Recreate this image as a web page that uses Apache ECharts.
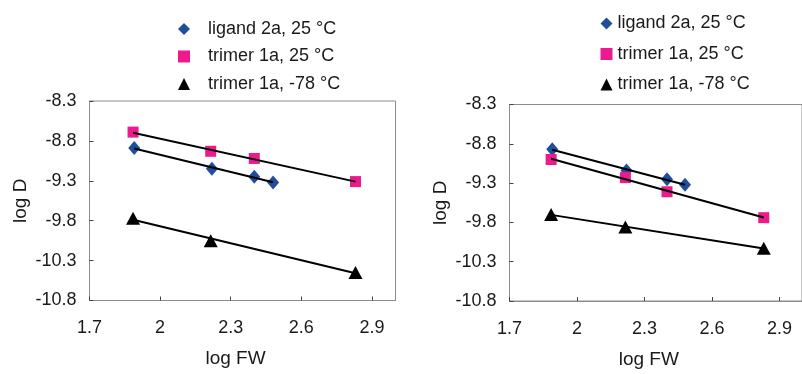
<!DOCTYPE html>
<html>
<head>
<meta charset="utf-8">
<script src="https://cdn.jsdelivr.net/npm/echarts@6/dist/echarts.min.js"></script>
<style>html,body{margin:0;padding:0;background:#fff;}#c{width:802px;height:374px;}</style>
</head>
<body>
<div id="c"></div>
<script>
// ---- data ----
const seriesNames = ['ligand 2a, 25 °C', 'trimer 1a, 25 °C', 'trimer 1a, -78 °C'];
const xTicks = [1.7, 2.0, 2.3, 2.6, 2.9];
const xTickLabels = ['1.7', '2', '2.3', '2.6', '2.9'];
const yTicks = [-10.8, -10.3, -9.8, -9.3, -8.8, -8.3];
const yTickLabels = ['-10.8', '-10.3', '-9.8', '-9.3', '-8.8', '-8.3'];

const xLigand = [1.89, 2.22, 2.40, 2.48];
const xTrimer = [1.885, 2.215, 2.40, 2.83];
const xTrimerCold = [1.885, 2.215, 2.83];

// left panel
const leftLigand = [-8.89, -9.15, -9.25, -9.32];
const leftTrimer = [-8.69, -8.93, -9.02, -9.31];
const leftTrimerCold = [-9.77, -10.05, -10.45];
// right panel
const rightLigand = [-8.87, -9.14, -9.25, -9.32];
const rightTrimer = [-9.00, -9.23, -9.41, -9.74];
const rightTrimerCold = [-9.70, -9.86, -10.13];

// ---- helpers ----
function pairs(xs, ys) { return xs.map((x, i) => [x, ys[i]]); }
function trend(xs, ys) {
  const n = xs.length;
  const mx = xs.reduce((a, b) => a + b, 0) / n;
  const my = ys.reduce((a, b) => a + b, 0) / n;
  let sxy = 0, sxx = 0;
  for (let i = 0; i < n; i++) { sxy += (xs[i] - mx) * (ys[i] - my); sxx += (xs[i] - mx) * (xs[i] - mx); }
  const b = sxy / sxx, a = my - b * mx;
  return [[xs[0], a + b * xs[0]], [xs[n - 1], a + b * xs[n - 1]]];
}

const FONT = "'Liberation Sans', Arial, sans-serif";
const TXT = '#1a1a1a';
const GRAY = '#8c8c8c';
const colors = ['#1f4e9a', '#ec1a8c', '#000000'];
const symbols = ['diamond', 'rect', 'triangle'];
const sizes = [[12, 14], 11, [14, 13]];

function axesFor(g) {
  const x = {
    type: 'value', gridIndex: g, min: 1.7, max: 3.0,
    axisLine: { lineStyle: { color: GRAY, width: 1 } },
    axisTick: { inside: true, length: 4, lineStyle: { color: '#444' }, customValues: xTicks },
    axisLabel: { customValues: xTicks, margin: 19, color: TXT, fontFamily: FONT, fontSize: 18,
      formatter: v => { const i = xTicks.findIndex(t => Math.abs(t - v) < 1e-6); return i >= 0 ? xTickLabels[i] : ''; } },
    splitLine: { show: false },
    name: 'log FW', nameLocation: 'middle', nameGap: 49,
    nameTextStyle: { color: TXT, fontFamily: FONT, fontSize: 19, padding: [0, 14, 0, 0] }
  };
  const y = {
    type: 'value', gridIndex: g, min: -10.8, max: -8.3,
    axisLine: { show: true, lineStyle: { color: GRAY, width: 1 } },
    axisTick: { show: true, inside: true, length: 4, lineStyle: { color: '#444' }, customValues: yTicks },
    axisLabel: { customValues: yTicks, margin: 13, color: TXT, fontFamily: FONT, fontSize: 18,
      formatter: v => { const i = yTicks.findIndex(t => Math.abs(t - v) < 1e-6); return i >= 0 ? yTickLabels[i] : ''; } },
    splitLine: { show: false },
    name: 'log D', nameLocation: 'middle', nameGap: 59, nameRotate: 90,
    nameTextStyle: { color: TXT, fontFamily: FONT, fontSize: 19 }
  };
  return [x, y];
}

function seriesFor(g, sets) {
  const out = [];
  sets.forEach((s, k) => {
    out.push({
      type: 'scatter', name: seriesNames[k], xAxisIndex: g, yAxisIndex: g,
      data: pairs(s[0], s[1]), symbol: symbols[k], symbolSize: sizes[k],
      itemStyle: { color: colors[k], opacity: 1 }, z: 2
    });
  });
  sets.forEach((s, k) => {
    out.push({
      type: 'line', name: 'trend' + g + k, xAxisIndex: g, yAxisIndex: g,
      data: trend(s[0], s[1]), symbol: 'none', silent: true,
      lineStyle: { color: '#000', width: 2 }, z: 3
    });
  });
  return out;
}

const [x0, y0] = axesFor(0);
const [x1, y1] = axesFor(1);

const option = {
  animation: false,
  backgroundColor: '#fff',
  grid: [
    { left: 89.5, top: 101, width: 306, height: 199.5, show: true, borderColor: GRAY, borderWidth: 1 },
    { left: 509.5, top: 104.5, width: 300, height: 200.5, show: true, borderColor: GRAY, borderWidth: 1 }
  ],
  xAxis: [x0, x1],
  yAxis: [y0, y1],
  legend: [
    { data: seriesNames, orient: 'vertical', left: 173, top: 15, itemWidth: 12, itemHeight: 12, itemGap: 9.5,
      textStyle: { color: TXT, fontFamily: FONT, fontSize: 18, lineHeight: 18, padding: [0, 0, 0, 13] }, selectedMode: false },
    { data: seriesNames, orient: 'vertical', left: 595.5, top: 9.5, itemWidth: 12, itemHeight: 12, itemGap: 12.5,
      textStyle: { color: TXT, fontFamily: FONT, fontSize: 18, lineHeight: 18 }, selectedMode: false }
  ],
  series: [].concat(
    seriesFor(0, [[xLigand, leftLigand], [xTrimer, leftTrimer], [xTrimerCold, leftTrimerCold]]),
    seriesFor(1, [[xLigand, rightLigand], [xTrimer, rightTrimer], [xTrimerCold, rightTrimerCold]])
  )
};

const chart = echarts.init(document.getElementById('c'), null, { renderer: 'canvas' });
chart.setOption(option);
</script>
</body>
</html>
